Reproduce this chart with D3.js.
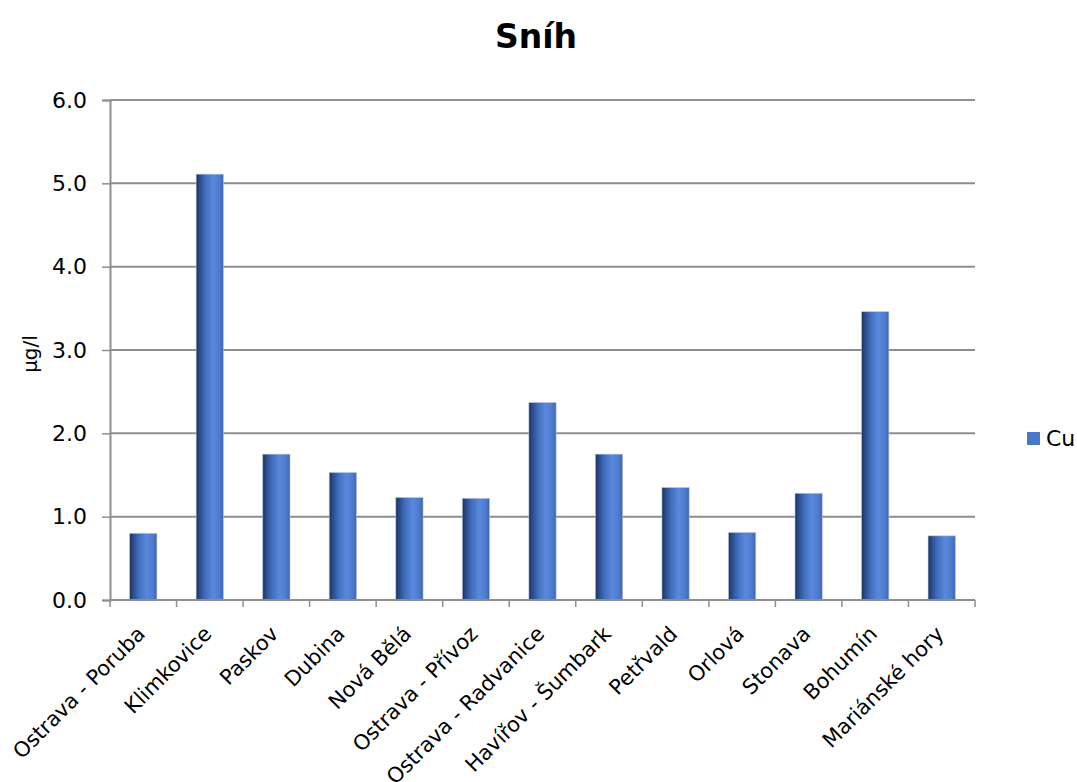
<!DOCTYPE html>
<html>
<head>
<meta charset="utf-8">
<script src="https://cdn.jsdelivr.net/npm/d3@7"></script>
<style>
  html, body { margin: 0; padding: 0; background: #ffffff; }
  svg { display: block; }
  text { font-family: "DejaVu Sans", Verdana, sans-serif; fill: #000; }
</style>
</head>
<body>
<svg id="chart" width="1077" height="782"></svg>
<script>
// Copper (Cu) concentration in snow samples, µg/l
const categories = [
  "Ostrava - Poruba", "Klimkovice", "Paskov", "Dubina", "Nová Bělá",
  "Ostrava - Přívoz", "Ostrava - Radvanice", "Havířov - Šumbark",
  "Petřvald", "Orlová", "Stonava", "Bohumín", "Mariánské hory"
];
const cuValues = [0.80, 5.11, 1.75, 1.53, 1.23, 1.22, 2.37, 1.75, 1.35, 0.81, 1.28, 3.46, 0.77];
const yTicks = [0, 1, 2, 3, 4, 5, 6];
const seriesName = "Cu";
const chartTitle = "Sníh";
const yAxisTitle = "µg/l";

const svg = d3.select("#chart");
const plot = { left: 110, right: 975, top: 100, bottom: 600 };
const labelSize = "22px";
const categoryLabelSize = "21px";

const x = d3.scaleBand()
  .domain(categories)
  .range([plot.left, plot.right])
  .paddingInner(0.59)
  .paddingOuter(0.295);

const y = d3.scaleLinear().domain([0, 6]).range([plot.bottom, plot.top]);

// Cylinder-like shading across each bar
const defs = svg.append("defs");
const grad = defs.append("linearGradient")
  .attr("id", "barShade").attr("x1", "0%").attr("x2", "100%").attr("y1", "0%").attr("y2", "0%");
[
  [0, "#1a3160"], [0.12, "#2a4a88"], [0.35, "#4170bf"],
  [0.62, "#5a88dc"], [0.85, "#4e7bcd"], [1, "#3d66b3"]
].forEach(([o, c]) => grad.append("stop").attr("offset", o).attr("stop-color", c));

// Horizontal gridlines
svg.append("g")
  .selectAll("line")
  .data(yTicks.filter(d => d > 0))
  .join("line")
  .attr("x1", plot.left).attr("x2", plot.right)
  .attr("y1", d => y(d)).attr("y2", d => y(d))
  .attr("stroke", "#8e8e8e").attr("stroke-width", 2);

// Y axis
const yAxis = svg.append("g")
  .attr("transform", `translate(${plot.left},0)`)
  .call(d3.axisLeft(y).tickValues(yTicks).tickFormat(d3.format(".1f")).tickSize(8).tickPadding(15));
yAxis.select(".domain").attr("stroke", "#8e8e8e").attr("stroke-width", 2);
yAxis.selectAll(".tick line").attr("stroke", "#8e8e8e").attr("stroke-width", 1.5);
yAxis.selectAll(".tick text").style("font-size", labelSize).style("font-family", "DejaVu Sans");

// Bars
svg.append("g")
  .selectAll("rect")
  .data(categories.map((c, i) => ({ c, v: cuValues[i] })))
  .join("rect")
  .attr("x", d => x(d.c))
  .attr("width", x.bandwidth())
  .attr("y", d => y(d.v))
  .attr("height", d => y(0) - y(d.v))
  .attr("fill", "url(#barShade)")
  .attr("stroke", "rgba(190,200,225,0.7)")
  .attr("stroke-width", 0.8);

// X axis with ticks at category boundaries
const xAxisG = svg.append("g").attr("transform", `translate(0,${plot.bottom})`);
xAxisG.append("line")
  .attr("x1", plot.left).attr("x2", plot.right)
  .attr("stroke", "#8e8e8e").attr("stroke-width", 2);
const boundaries = d3.range(categories.length + 1).map(i => plot.left + (plot.right - plot.left) * i / categories.length);
xAxisG.selectAll("line.tick")
  .data(boundaries)
  .join("line")
  .attr("class", "tick")
  .attr("x1", d => d).attr("x2", d => d)
  .attr("y1", 0).attr("y2", 7)
  .attr("stroke", "#8e8e8e").attr("stroke-width", 1.5);

// Rotated category labels
xAxisG.selectAll("text")
  .data(categories)
  .join("text")
  .attr("transform", d => `translate(${x(d) + x.bandwidth() / 2 - 2},${30}) rotate(-45)`)
  .attr("text-anchor", "end")
  .attr("dy", "0.35em")
  .style("font-size", categoryLabelSize)
  .text(d => d);

// Y axis title
svg.append("text")
  .attr("transform", `translate(37,354) rotate(-90)`)
  .attr("text-anchor", "middle")
  .style("font-size", "20px")
  .text(yAxisTitle);

// Chart title
svg.append("text")
  .attr("x", 536).attr("y", 48)
  .attr("text-anchor", "middle")
  .style("font-size", "33px")
  .style("font-weight", "bold")
  .text(chartTitle);

// Legend
const legend = svg.append("g").attr("transform", "translate(1027,432)");
legend.append("rect").attr("width", 13).attr("height", 13).attr("fill", "#4a78c8");
legend.append("text").attr("x", 19).attr("y", 14).style("font-size", labelSize).text(seriesName);
</script>
</body>
</html>
